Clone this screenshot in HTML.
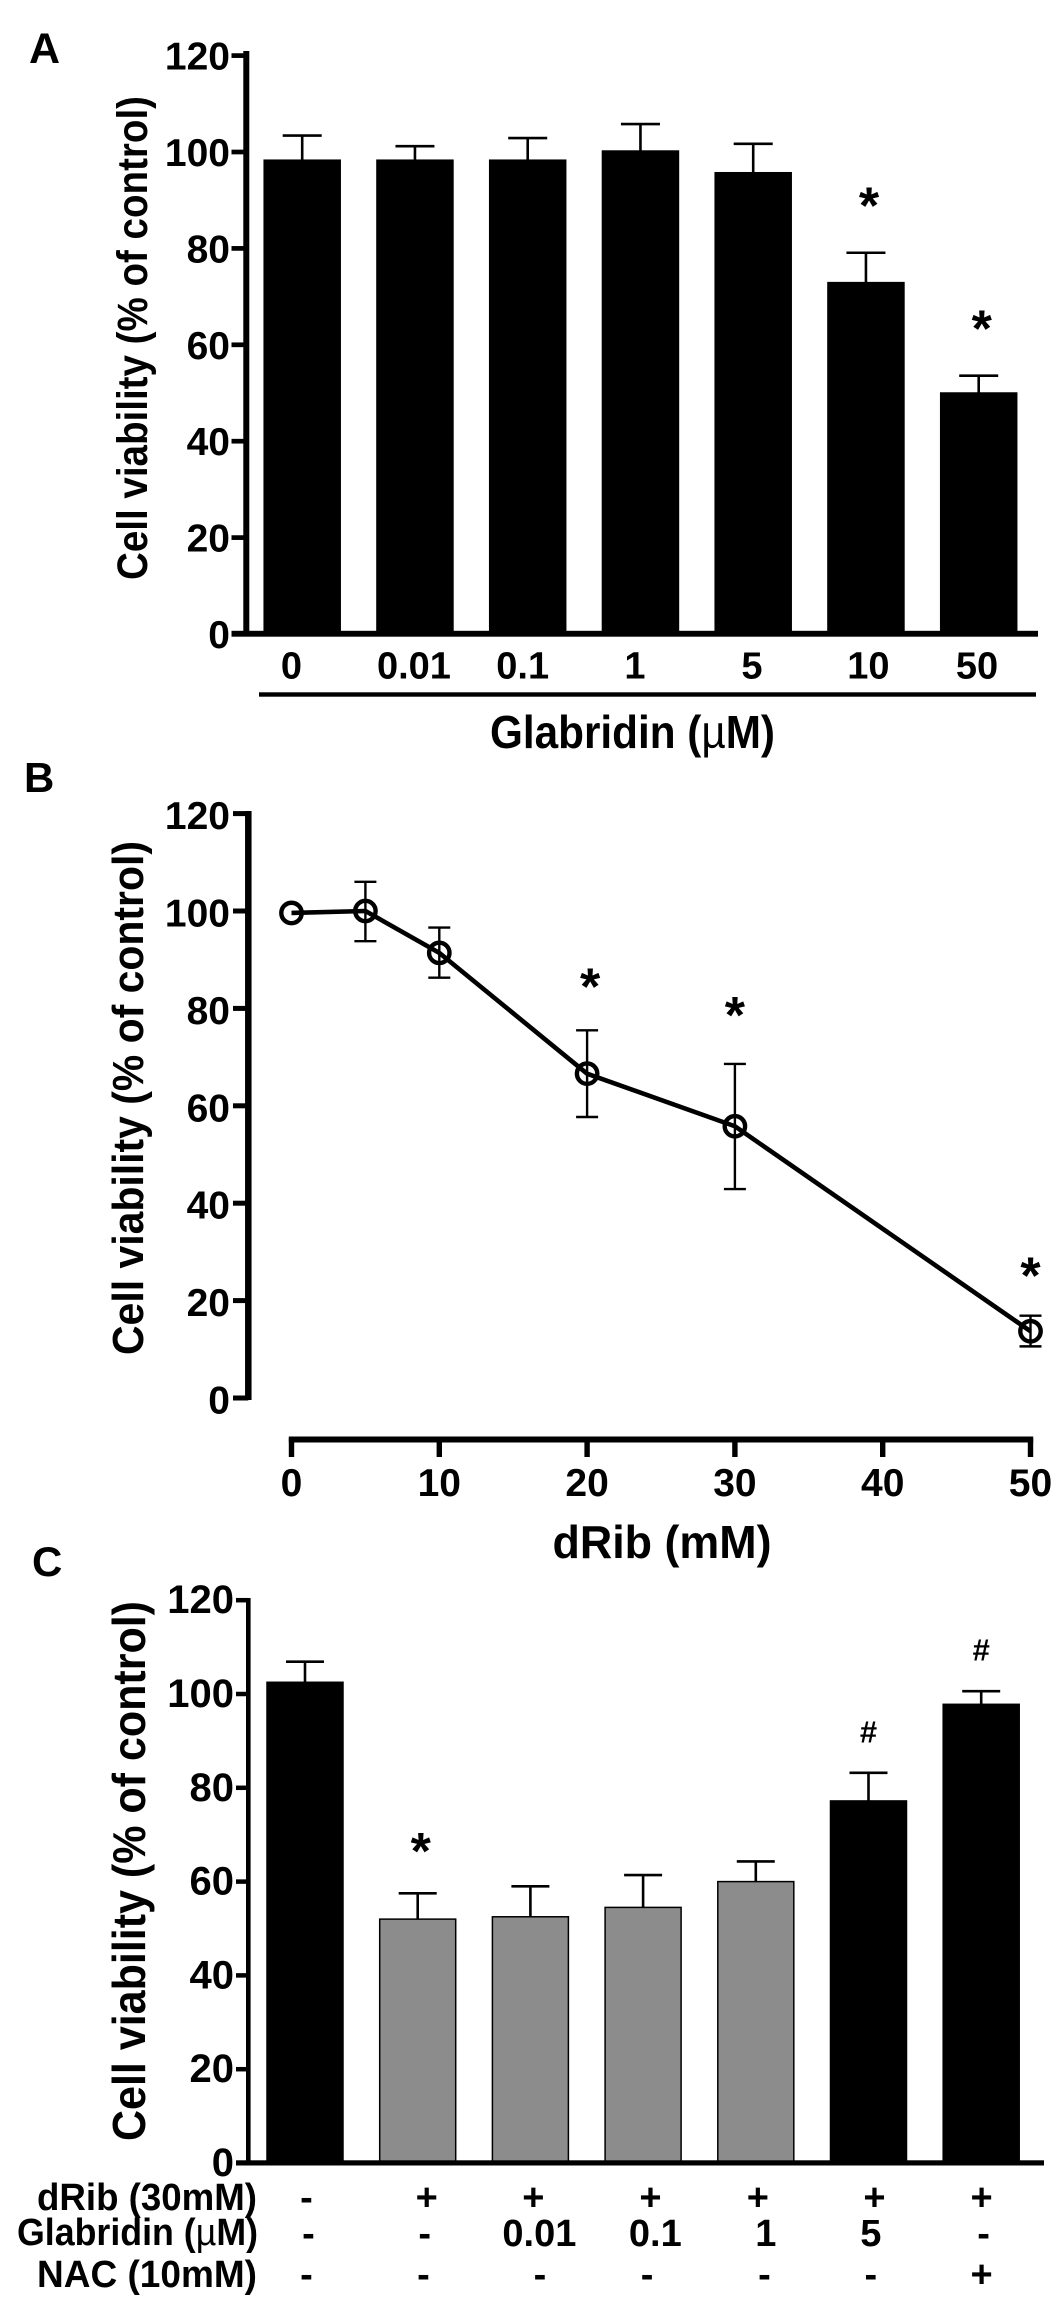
<!DOCTYPE html>
<html lang="en">
<head>
<meta charset="utf-8">
<title>Cell viability charts</title>
<style>
html,body{margin:0;padding:0;background:#fff;}
svg{display:block;}
text{font-family:"Liberation Sans",sans-serif;font-weight:bold;fill:#000;}
</style>
</head>
<body>
<svg id="fig" xmlns="http://www.w3.org/2000/svg" width="1063" height="2306" viewBox="0 0 1063 2306">
  <text x="29" y="63" font-size="43">A</text>
  <text x="24" y="792" font-size="42">B</text>
  <text x="32" y="1576" font-size="42">C</text>

  <text transform="translate(147,338) rotate(-90)" text-anchor="middle" font-size="43" textLength="484" lengthAdjust="spacingAndGlyphs">Cell viability (% of control)</text>
  <text transform="translate(143,1098) rotate(-90)" text-anchor="middle" font-size="44" textLength="514" lengthAdjust="spacingAndGlyphs">Cell viability (% of control)</text>
  <text transform="translate(145,1871) rotate(-90)" text-anchor="middle" font-size="46" textLength="540" lengthAdjust="spacingAndGlyphs">Cell viability (% of control)</text>

  <text x="632.5" y="748" text-anchor="middle" font-size="46" textLength="285" lengthAdjust="spacingAndGlyphs">Glabridin (<tspan font-weight="normal">µ</tspan>M)</text>
  <text x="662" y="1558" text-anchor="middle" font-size="46" textLength="219" lengthAdjust="spacingAndGlyphs">dRib (mM)</text>

  <text x="257" y="2210" text-anchor="end" font-size="38" textLength="220" lengthAdjust="spacingAndGlyphs">dRib (30mM)</text>
  <text x="258" y="2245" text-anchor="end" font-size="38" textLength="241" lengthAdjust="spacingAndGlyphs">Glabridin (<tspan font-weight="normal">µ</tspan>M)</text>
  <text x="257" y="2287" text-anchor="end" font-size="38" textLength="220" lengthAdjust="spacingAndGlyphs">NAC (10mM)</text>
</svg>
<script>
// Panel A data
const catsA = ['0', '0.01', '0.1', '1', '5', '10', '50'];
const valuesA = [98.3, 98.3, 98.3, 100.2, 95.7, 72.9, 50];
const errTopA = [103.4, 101.2, 102.9, 105.8, 101.7, 79.1, 53.6];
const starsA = [5, 6];

// Panel B data
const dosesB = [0, 5, 10, 20, 30, 50];
const valuesB = [99.6, 100, 91.4, 66.6, 55.8, 13.7];
const errHighB = [null, 106, 96.6, 75.5, 68.6, 16.9];
const errLowB = [null, 93.8, 86.3, 57.7, 42.9, 10.6];
const starsB = [3, 4, 5];
const xTicksB = [0, 10, 20, 30, 40, 50];

// Panel C data
const valuesC = [102.5, 52, 52.5, 54.5, 60, 77.2, 97.8];
const errTopC = [106.9, 57.5, 59, 61.4, 64.3, 83.2, 100.6];
const groupC = ['black', 'gray', 'gray', 'gray', 'gray', 'black', 'black'];
const starsC = [1];
const hashesC = [5, 6];
const rowDrib = ['-', '+', '+', '+', '+', '+', '+'];
const rowGlabridin = ['-', '-', '0.01', '0.1', '1', '5', '-'];
const rowNac = ['-', '-', '-', '-', '-', '-', '+'];

const yTicks = [0, 20, 40, 60, 80, 100, 120];

const svg = document.getElementById('fig');
const NS = 'http://www.w3.org/2000/svg';

function mk(tag, attrs, txt) {
  const el = document.createElementNS(NS, tag);
  for (const k in attrs) el.setAttribute(k, attrs[k]);
  if (txt !== undefined) el.textContent = txt;
  svg.appendChild(el);
  return el;
}
function rect(x, y, w, h, fill) {
  return mk('rect', { x: x, y: y, width: w, height: h, fill: fill });
}
function line(x1, y1, x2, y2, w) {
  return mk('line', { x1: x1, y1: y1, x2: x2, y2: y2, stroke: '#000', 'stroke-width': w });
}
function label(x, y, s, size, anchor) {
  return mk('text', { x: x, y: y, 'font-size': size, 'text-anchor': anchor || 'middle' }, s);
}

// Scales
const yA = v => 634 - v * 4.82;
const xA = i => 302.2 + i * 112.75;
const yB = v => 1398 - v * 4.87;
const xB = d => 291.5 + d * 14.78;
const yC = v => 2163 - v * 4.69;
const xC = i => 305 + i * 112.7;

function yAxis(panel, yScale, axisX, axisW, tickLeft, tickW, labelRight, fontSize, baseOff, top) {
  let el = rect(axisX - axisW / 2, top, axisW, yScale(0) - top + 2, '#000');
  
  
  yTicks.forEach(t => {
    let tick = rect(tickLeft, yScale(t) - tickW / 2, axisX - tickLeft, tickW, '#000');
    
    
    let lab = label(labelRight, yScale(t) + baseOff, String(t), fontSize, 'end');
    
    
  });
}

function bars(panel, xs, ys, vals, tops, w, fills, capW) {
  vals.forEach((v, i) => {
    let eb = line(xs(i), ys(tops[i]), xs(i), ys(v), 2.6);
    
    
    let cap = line(xs(i) - capW / 2, ys(tops[i]), xs(i) + capW / 2, ys(tops[i]), 2.6);
    
    
    let b = rect(xs(i) - w / 2, ys(v), w, ys(0) - ys(v), fills(i));
    b.setAttribute('stroke', '#000');
    b.setAttribute('stroke-width', '1.5');
    
    
  });
}

function marker(x, cy, sym, size, centerOff) {
  return label(x, cy + centerOff, sym, size);
}

/* ---------- Panel A ---------- */
yAxis('panel-a', yA, 246.3, 6, 231.5, 4.7, 230, 39, 14, 51);
bars('panel-a', xA, yA, valuesA, errTopA, 76, () => '#000', 39);
let axA = rect(231.5, 630.8, 806.5, 5.9, '#000');


const nudgeA = [-10.7, -1, -5, -5.5, -1.2, 2.5, -1.7];
catsA.forEach((c, i) => {
  let t = label(xA(i) + nudgeA[i], 678.5, c, 38);
  
  
});
let ulA = rect(259, 692.3, 777, 4.4, '#000');


starsA.forEach(i => {
  let s = marker(xA(i) + 3, yA(errTopA[i]) - 53, '*', 52, 24);
  
  
});

/* ---------- Panel B ---------- */
yAxis('panel-b', yB, 248.3, 6.5, 233, 5, 230, 39, 15.5, 811);
let axB = rect(288.8, 1436.5, 744.4, 6, '#000');


xTicksB.forEach(t => {
  let tk = rect(xB(t) - 2.7, 1438, 5.4, 19, '#000');
  
  
  let lb = label(xB(t), 1496, String(t), 39);
  
  
});
dosesB.forEach((d, i) => {
  if (errHighB[i] === null) return;
  let v = line(xB(d), yB(errHighB[i]), xB(d), yB(errLowB[i]), 2.4);
  
  
  let c1 = line(xB(d) - 11, yB(errHighB[i]), xB(d) + 11, yB(errHighB[i]), 2.4);
  
  
  let c2 = line(xB(d) - 11, yB(errLowB[i]), xB(d) + 11, yB(errLowB[i]), 2.4);
  
  
});
let pl = mk('polyline', {
  points: dosesB.map((d, i) => xB(d) + ',' + yB(valuesB[i])).join(' '),
  fill: 'none', stroke: '#000', 'stroke-width': 4.6, 'stroke-linejoin': 'round'
});


dosesB.forEach((d, i) => {
  let c = mk('circle', { cx: xB(d), cy: yB(valuesB[i]), r: 10.2, fill: 'none', stroke: '#000', 'stroke-width': 4.4 });
  
  
});
const starGapB = { 3: 50, 4: 54.7, 5: 46 };
starsB.forEach(i => {
  let s = marker(xB(dosesB[i]) + (i === 3 ? 3 : 0), yB(errHighB[i]) - starGapB[i], '*', 52, 24);
  
  
});

/* ---------- Panel C ---------- */
yAxis('panel-c', yC, 248.3, 4.6, 236, 4.5, 234, 40, 13, 1598);
bars('panel-c', xC, yC, valuesC, errTopC, 76, i => (groupC[i] === 'gray' ? '#8c8c8c' : '#000'), 38);
let axC = rect(236, 2160.3, 808, 5.2, '#000');


starsC.forEach(i => {
  let s = marker(xC(i) + 3, yC(errTopC[i]) - 48.5, '*', 52, 24);
  
  
});
hashesC.forEach(i => {
  let s = marker(xC(i), yC(errTopC[i]) - 38.5, '#', 31, 8);
  
  
});
const nudgeDrib = [1.4, 9, 3, 7.4, 2, 6, 0.4];
const nudgeGlab = [3.5, 7, 9, 12.2, 10, 2.3, 2.4];
const nudgeNac = [1.4, 5.7, 9.6, 4, 8.7, 2.3, 0.4];
rowDrib.forEach((s, i) => {
  let t = label(xC(i) + nudgeDrib[i], 2210, s, 38);
  
  
});
rowGlabridin.forEach((s, i) => {
  let t = label(xC(i) + nudgeGlab[i], 2246, s, 38);
  
  
});
rowNac.forEach((s, i) => {
  let t = label(xC(i) + nudgeNac[i], 2287, s, 38);
  
  
});
</script>
</body>
</html>
